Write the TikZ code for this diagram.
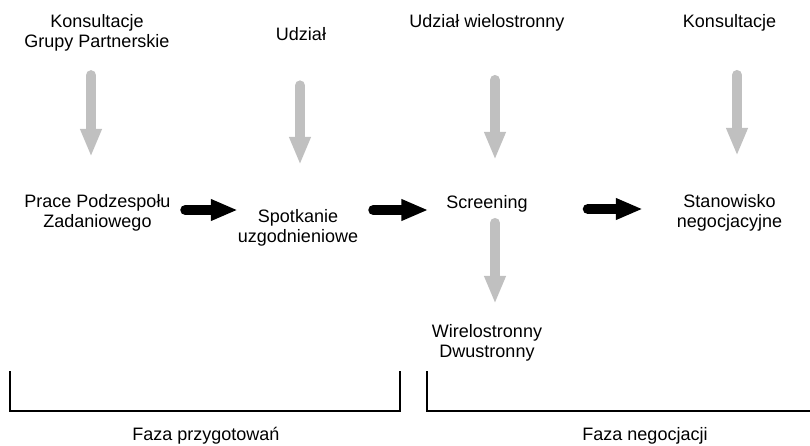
\documentclass[tikz,border=0pt]{standalone}
\usepackage{fontspec}
\setmainfont{Liberation Sans}
\usetikzlibrary{arrows.meta}
\definecolor{arrowgray}{HTML}{C0C0C0}
\tikzset{
  lbl/.style={inner sep=0pt, anchor=base, align=center, font=\fontsize{18pt}{20.7pt}\selectfont},
  grayarrow/.style={draw=arrowgray, line width=10pt, line cap=round, -{Triangle[width=20pt,length=28pt]}},
  blackarrow/.style={draw=black, line width=10pt, line cap=round, -{Triangle[width=20pt,length=27pt]}},
  bracket/.style={draw=black, line width=1.2pt}
}
\begin{document}
\begin{tikzpicture}[x=1pt,y=-1pt]
\useasboundingbox (0,0) rectangle (810,445);
% top labels (base anchor = last line's baseline)
\node[lbl] (k1) at (97,47.7) {Konsultacje\\Grupy Partnerskie};
\node[lbl] (u1) at (301,40) {Udział};
\node[lbl] (u2) at (487,27) {Udział wielostronny};
\node[lbl] (k2) at (729.5,27) {Konsultacje};
% main row
\node[lbl] (prace) at (97.5,227.7) {Prace Podzespołu\\Zadaniowego};
\node[lbl] (spot) at (298,242.7) {Spotkanie\\uzgodnieniowe};
\node[lbl] (scr) at (487,208) {Screening};
\node[lbl] (stan) at (729.5,227.7) {Stanowisko\\negocjacyjne};
\node[lbl] (wir) at (487,357.7) {Wirelostronny\\Dwustronny};
% phases
\node[lbl] (f1) at (206,440) {Faza przygotowań};
\node[lbl] (f2) at (645,440) {Faza negocjacji};
% gray arrows
\draw[grayarrow, shorten <=23.5pt, shorten >=37pt] ([xshift=-6pt]k1.south) -- ([xshift=-6.5pt]prace.north);
\draw[grayarrow, shorten <=45pt, shorten >=44pt] ([xshift=-1pt]u1.south) -- ([xshift=2pt]spot.north);
\draw[grayarrow, shorten <=49pt, shorten >=35pt] ([xshift=8pt]u2.south) -- ([xshift=8pt]scr.north);
\draw[grayarrow, shorten <=44pt, shorten >=38pt] ([xshift=7.5pt]k2.south) -- ([xshift=7.5pt]stan.north);
\draw[grayarrow, shorten <=11pt, shorten >=20pt] ([xshift=8pt]scr.south) -- ([xshift=8pt]wir.north);
% black arrows
\draw[blackarrow, shorten <=14.5pt, shorten >=0pt] (prace.east |- 0,210) -- (spot.west |- 0,210);
\draw[blackarrow, shorten <=15pt, shorten >=18pt] (spot.east |- 0,210) -- (scr.west |- 0,210);
\draw[blackarrow, shorten <=60pt, shorten >=34pt] (scr.east |- 0,209) -- (stan.west |- 0,209);
% brackets
\draw[bracket] (10,371) -- (10,411) -- (400,411) -- (400,371);
\draw[bracket] (427,371) -- (427,411) -- (812,411);
\end{tikzpicture}
\end{document}
